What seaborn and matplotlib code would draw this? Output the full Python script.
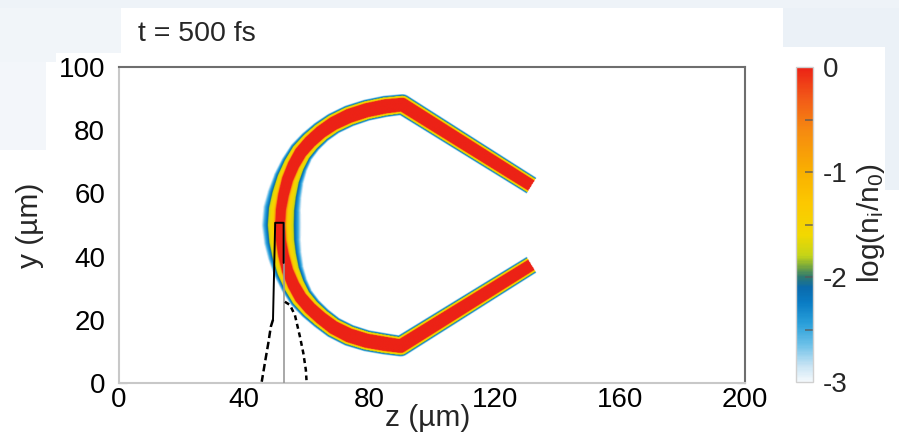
import numpy as np
import matplotlib
matplotlib.use("Agg")
import matplotlib.pyplot as plt
import seaborn as sns
from matplotlib.colors import LinearSegmentedColormap
from matplotlib.patches import Rectangle

# ---------------- data ----------------
title_text = "t = 500 fs"
x_label = "z (µm)"
y_label = "y (µm)"
cbar_label = r"log(n$_\mathregular{i}$/n$_\mathregular{0}$)"
x_ticks = [0, 40, 80, 120, 160, 200]
x_minor_ticks = [20, 60, 100, 140, 180]
y_ticks = [0, 20, 40, 60, 80, 100]
cbar_ticks = [0, -1, -2, -3]
cbar_minor_ticks = [-0.5, -1.5, -2.5]

# centre line of the ion-density shell (z, y in µm), upper branch: right end -> apex
foil_z_top = [131.8, 90.5, 85.0, 79.1, 73.5, 68.5, 64.5, 61.0, 58.0, 55.7, 53.8, 52.5, 51.7, 51.4]
foil_y_top = [62.5, 88.2, 87.6, 86.4, 84.6, 82.2, 79.5, 76.4, 73.0, 69.0, 64.5, 59.5, 55.0, 50.0]
core_top = [1.85, 2.1, 2.2, 2.2, 2.2, 2.1, 2.0, 1.95, 1.9, 1.8, 1.7, 1.6, 1.5, 1.45]
halo_out_top = [1.2, 1.3, 1.3, 1.3, 1.35, 1.45, 1.6, 1.8, 2.1, 2.5, 3.0, 3.7, 4.3, 4.5]
halo_in_top = [1.2, 1.3, 1.3, 1.3, 1.4, 1.5, 1.7, 2.0, 2.4, 3.0, 3.7, 4.4, 5.0, 5.4]
# lower branch: apex -> right end
foil_z_bot = [51.4, 51.7, 52.5, 53.8, 55.7, 58.0, 61.0, 64.5, 68.5, 73.5, 79.1, 85.0, 90.0, 131.8]
foil_y_bot = [50.0, 45.0, 40.5, 35.5, 31.0, 27.0, 23.6, 20.5, 17.5, 15.0, 13.3, 12.3, 11.6, 37.4]
core_bot = [1.45, 1.5, 1.6, 1.7, 1.8, 1.9, 1.95, 2.0, 2.1, 2.2, 2.2, 2.2, 2.1, 1.85]
halo_out_bot = [4.5, 4.1, 3.6, 3.0, 2.5, 2.1, 1.8, 1.6, 1.45, 1.35, 1.3, 1.3, 1.3, 1.2]
halo_in_bot = [5.4, 5.0, 4.4, 3.7, 3.0, 2.4, 2.0, 1.7, 1.5, 1.4, 1.3, 1.3, 1.3, 1.2]

# density fall-off profile across the halo (fraction of halo width -> log(n_i/n_0))
profile_t = [0.0, 0.08, 0.18, 0.50, 0.60, 0.80, 1.00]
profile_v = [-0.05, -0.9, -1.45, -1.75, -2.15, -2.5, -3.0]

# laser profile lines
laser_box_z = [49.2, 49.9, 52.6, 52.6]
laser_box_y = [20.0, 50.7, 50.7, 38.0]
laser_axis_z = [52.6, 52.6]
laser_axis_y = [0.0, 50.7]
laser_left_z = [49.2, 48.5, 47.7, 46.6, 45.6]
laser_left_y = [20.0, 17.8, 12.6, 6.3, 0.4]
laser_right_z = [53.0, 54.6, 56.2, 57.8, 58.9, 59.7, 59.9]
laser_right_y = [25.7, 24.7, 21.5, 14.7, 9.4, 4.1, 0.9]

# colour map stops (log value, colour)
cmap_vals = [-3.0, -2.85, -2.65, -2.45, -2.25, -2.1, -2.0, -1.9, -1.8, -1.6, -1.3, -1.0, -0.6, -0.3, 0.0]
cmap_cols = ["#f4f9fc", "#c8e4f4", "#6cc0e8", "#2aa0da", "#0a7cc4", "#0a6aac", "#2e7a70",
             "#78a83c", "#c4d418", "#f2d800", "#fcc800", "#f9b000", "#f68a10", "#f25a18", "#ec2216"]

# ---------------- build the density map ----------------
pz = np.array(foil_z_top + foil_z_bot[1:])
py = np.array(foil_y_top + foil_y_bot[1:])
pc = np.array(core_top + core_bot[1:])
po = np.array(halo_out_top + halo_out_bot[1:])
pi = np.array(halo_in_top + halo_in_bot[1:])

zg = np.arange(0, 200.01, 0.2)
yg = np.arange(0, 100.01, 0.2)
Z, Y = np.meshgrid(zg, yg)
P = np.stack([Z.ravel(), Y.ravel()], axis=1)
best = np.full(P.shape[0], np.inf)
bcore = np.zeros(P.shape[0])
bhalo = np.ones(P.shape[0])
nseg = len(pz) - 1
for i in range(nseg):
    a = np.array([pz[i], py[i]])
    b = np.array([pz[i + 1], py[i + 1]])
    ab = b - a
    t = ((P - a) @ ab) / (ab @ ab)
    tc = np.clip(t, 0, 1)
    proj = a + tc[:, None] * ab
    d = np.hypot(P[:, 0] - proj[:, 0], P[:, 1] - proj[:, 1])
    if i == 0:
        d[t < 0] = np.inf
    if i == nseg - 1:
        d[t > 1] = np.inf
    cross = ab[0] * (P[:, 1] - a[1]) - ab[1] * (P[:, 0] - a[0])
    inner = cross > 0
    core = pc[i] * (1 - tc) + pc[i + 1] * tc
    hout = po[i] * (1 - tc) + po[i + 1] * tc
    hin = pi[i] * (1 - tc) + pi[i + 1] * tc
    halo = np.where(inner, hin, hout)
    upd = d < best
    best[upd] = d[upd]
    bcore[upd] = core[upd]
    bhalo[upd] = halo[upd]

tt = (best - bcore) / bhalo
field = np.where(tt <= 0, 0.0, np.interp(tt, profile_t, profile_v, right=-3.5))
field = np.where(tt > 1, -3.5, field).reshape(Z.shape)

cmap = LinearSegmentedColormap.from_list(
    "ni", [((v + 3) / 3, c) for v, c in zip(cmap_vals, cmap_cols)])
cmap.set_under("white")

# ---------------- figure ----------------
sns.set_theme(style="white")
plt.rcParams["font.family"] = ["Liberation Sans", "DejaVu Sans"]
plt.rcParams["mathtext.fontset"] = "custom"
plt.rcParams["mathtext.rm"] = "Liberation Sans"
plt.rcParams["mathtext.it"] = "Liberation Sans"
plt.rcParams["axes.unicode_minus"] = False

W, H = 899, 438
fig = plt.figure(figsize=(W / 100, H / 100), dpi=100, facecolor="white")

for (x0, y0, x1, y1, col) in [(0, 0, 899, 8, "#eef3f8"), (0, 8, 121, 53, "#f1f5f9"),
                              (0, 53, 56, 62, "#f1f5f9"), (0, 62, 46, 150, "#f3f6fa"),
                              (783, 8, 899, 47, "#ebf1f7"), (885, 47, 899, 190, "#ebf1f7")]:
    fig.add_artist(Rectangle((x0 / W, 1 - y1 / H), (x1 - x0) / W, (y1 - y0) / H,
                             transform=fig.transFigure, color=col, lw=0, zorder=-5))

ax = fig.add_axes([119 / W, 55 / H, 626 / W, 316 / H])
ax.set_facecolor("white")
im = ax.imshow(field, extent=(zg[0], zg[-1], yg[0], yg[-1]), origin="lower",
               cmap=cmap, vmin=-3, vmax=0, aspect="auto", interpolation="antialiased", zorder=1)

sns.lineplot(x=laser_axis_z, y=laser_axis_y, sort=False, estimator=None, color="#999999",
             lw=1.2, ax=ax, zorder=3)
sns.lineplot(x=laser_box_z, y=laser_box_y, sort=False, estimator=None, color="black",
             lw=1.4, ax=ax, zorder=4)
sns.lineplot(x=laser_left_z, y=laser_left_y, sort=False, estimator=None, color="black",
             lw=1.8, linestyle=(0, (3, 1.5)), ax=ax, zorder=4)
sns.lineplot(x=laser_right_z, y=laser_right_y, sort=False, estimator=None, color="black",
             lw=1.8, linestyle=(0, (2, 1.5)), ax=ax, zorder=4)

ax.set_xlim(0, 200)
ax.set_ylim(0, 100)
ax.set_xticks(x_ticks)
ax.set_xticks(x_minor_ticks, minor=True)
ax.set_yticks(y_ticks)
ax.tick_params(axis="x", which="both", direction="in", length=7, width=1.2, color="#555555",
               top=True, bottom=True, labelsize=20, pad=3, labelcolor="black")
ax.tick_params(axis="y", which="both", direction="in", length=6, width=1.0, color="#d4d4d4",
               left=True, right=True, labelsize=20, pad=10, labelcolor="black")
for s in ["top", "right"]:
    ax.spines[s].set_color("#6e6e6e")
    ax.spines[s].set_linewidth(1.5)
for s in ["left", "bottom"]:
    ax.spines[s].set_color("#c8c8c8")
    ax.spines[s].set_linewidth(1.5)
ax.set_xlabel("")
ax.set_ylabel("")

fig.text(428 / W, 1 - 418 / H, x_label, ha="center", va="center", fontsize=21.5)
fig.text(30 / W, 1 - 225 / H, y_label, ha="center", va="center", fontsize=21.5, rotation=90)
fig.text(138 / W, 1 - 34 / H, title_text, ha="left", va="center", fontsize=20.5)

cax = fig.add_axes([796 / W, 56 / H, 17 / W, 315 / H])
cb = fig.colorbar(im, cax=cax)
cb.set_ticks(cbar_ticks)
cb.ax.minorticks_off()
cb.ax.tick_params(axis="y", which="both", length=0, labelsize=20, pad=7)
# short inner tick marks on the right half of the bar
cb.ax.hlines(cbar_ticks[1:-1] + cbar_minor_ticks, 0.5, 1.0, colors="#5a5a5a", lw=1.2, alpha=0.8)
cb.outline.set_edgecolor("#d0d0d0")
cb.outline.set_linewidth(1.0)
fig.text(871 / W, 1 - 223 / H, cbar_label, ha="center", va="center", fontsize=21.5, rotation=90)

fig.savefig("out.png", dpi=100, facecolor=fig.get_facecolor())
